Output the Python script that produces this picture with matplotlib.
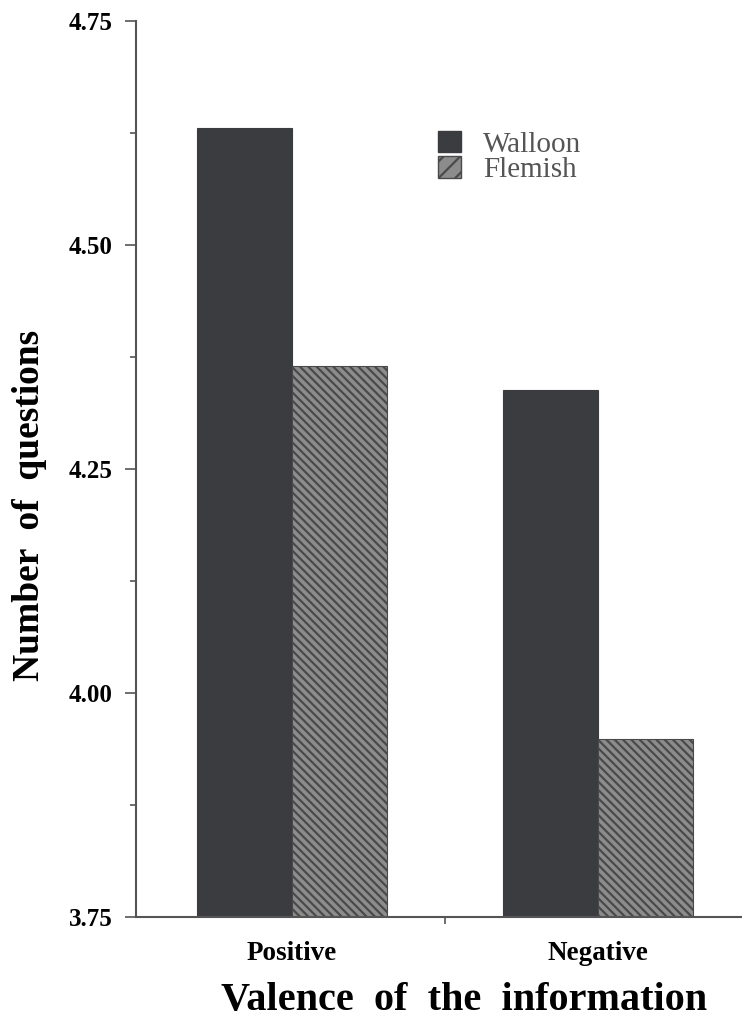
import numpy as np
import matplotlib.pyplot as plt
from matplotlib.patches import Patch

# values
groups = ['Positive', 'Negative']
walloon = [4.630, 4.338]
flemish = [4.365, 3.949]
series_names = ['Walloon', 'Flemish']
yticks = [3.75, 4.00, 4.25, 4.50, 4.75]

plt.rcParams['font.family'] = ['Liberation Serif', 'DejaVu Serif']
plt.rcParams['hatch.linewidth'] = 1.6
plt.rcParams['hatch.color'] = '#3a3a3a'

fig = plt.figure(figsize=(7.42, 10.31), dpi=100)
ax = fig.add_axes([0.1833, 0.1106, 0.8167, 0.8693])

x = np.arange(len(groups))
w = 0.31
dark = '#3b3c40'
ax.bar(x - w/2, walloon, w, bottom=0, color=dark, edgecolor=dark, linewidth=0.8,
       label=series_names[0])
ax.bar(x + w/2, flemish, w, bottom=0, color='#8c8c8c', edgecolor='#4a4a4a',
       linewidth=0.8, hatch='\\\\\\\\', label=series_names[1])

ax.set_ylim(3.75, 4.75)
ax.set_xlim(-0.51, 1.471)

ax.set_yticks(yticks)
ax.set_yticklabels([f'{v:.2f}' for v in yticks], fontsize=18, fontweight='bold')
ax.set_yticks(np.arange(3.875, 4.75, 0.25), minor=True)
ax.tick_params(axis='y', which='major', length=8, width=1.2, color='#555555', pad=9)
ax.tick_params(axis='y', which='minor', length=4, width=1.2, color='#555555')

ax.set_xticks(x)
ax.set_xticklabels(groups, fontsize=19.5, fontweight='bold')
ax.set_xticks([0.5], minor=True)
ax.tick_params(axis='x', which='major', length=0, pad=17)
ax.tick_params(axis='x', which='minor', length=5, width=1.2, color='#555555')

for s in ['top', 'right']:
    ax.spines[s].set_visible(False)
for s in ['left', 'bottom']:
    ax.spines[s].set_color('#555555')
    ax.spines[s].set_linewidth(1.5)

ax.set_ylabel('Number  of  questions', fontsize=27, fontweight='bold')
ax.yaxis.set_label_coords(-0.147, 0.459)
ax.set_xlabel('Valence  of  the  information', fontsize=29, fontweight='bold')
ax.xaxis.set_label_coords(0.541, -0.072)

handles = [Patch(facecolor=dark, edgecolor=dark),
           Patch(facecolor='#8c8c8c', edgecolor='#4a4a4a', hatch='//')]
leg = fig.legend(handles, series_names, loc='upper left',
                 bbox_to_anchor=(0.590, 0.873), frameon=False, fontsize=21,
                 handlelength=0.8, handleheight=0.75, handletextpad=0.75,
                 labelspacing=-0.05, borderpad=0, borderaxespad=0)
for t in leg.get_texts():
    t.set_color('#555555')

plt.savefig('out.png', dpi=100)
